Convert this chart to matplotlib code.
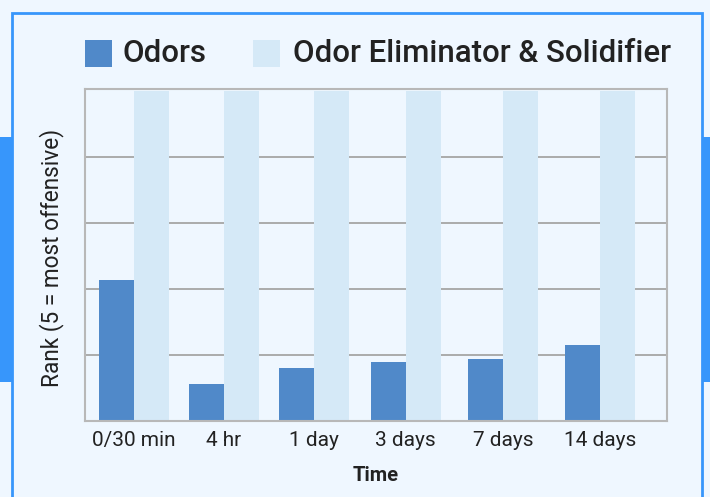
import numpy as np
import matplotlib.pyplot as plt
from matplotlib.patches import Rectangle

# data
categories = ['0/30 min', '4 hr', '1 day', '3 days', '7 days', '14 days']
odors = [2.13, 0.56, 0.80, 0.89, 0.935, 1.15]
eliminator = [5, 5, 5, 5, 5, 5]
series_names = ['Odors', 'Odor Eliminator & Solidifier']

# group centres (slightly uneven in the original)
x_pos = np.array([0, 1, 2, 3.02, 4.1, 5.18])
width = 0.39

bg = '#eff7ff'
dark = '#5089c9'
light = '#d5e9f7'
border = '#3796fb'
text_col = '#222222'

plt.rcParams['font.family'] = ['Roboto', 'DejaVu Sans']

fig = plt.figure(figsize=(7.1, 4.97), dpi=100, facecolor=bg)
W, H = 710, 497


def px(x, y, w, h):
    # pixel box (top-left origin) -> figure fraction
    return (x / W, 1 - (y + h) / H, w / W, h / H)


# decorative frame
fig.patches.append(Rectangle(px(12, 13, 690, 520)[:2], 690 / W, 520 / H,
                             transform=fig.transFigure, fill=False,
                             edgecolor=border, linewidth=2, zorder=0))
for bx, bw in [(0, 13), (702, 10)]:
    r = px(bx, 137, bw, 245)
    fig.patches.append(Rectangle(r[:2], r[2], r[3], transform=fig.transFigure,
                                 facecolor=border, edgecolor='none', zorder=0))

ax = fig.add_axes(px(85, 89, 582, 332))
ax.set_facecolor(bg)
ax.bar(x_pos - width / 2, odors, width, color=dark, zorder=2)
ax.bar(x_pos + width / 2, eliminator, width, color=light, zorder=2)

ax.set_xlim(-0.544, 5.922)
ax.set_ylim(0, 5.03)
ax.set_yticks([1, 2, 3, 4])
ax.set_yticklabels([])
ax.tick_params(axis='y', length=0)
ax.tick_params(axis='x', length=0, pad=7, labelsize=15, labelcolor=text_col)
ax.set_xticks(x_pos)
ax.set_xticklabels(categories)
ax.grid(axis='y', color='#ababab', linewidth=1.4, zorder=1)
ax.set_axisbelow(True)
for s in ax.spines.values():
    s.set_color('#b8b8b8')
    s.set_linewidth(1.5)

ax.set_xlabel('Time', fontsize=14.5, fontweight='bold', color=text_col, labelpad=12)
fig.text(52 / W, 1 - 258 / H, 'Rank (5 = most offensive)', rotation=90,
         ha='center', va='center', fontsize=16.3, color=text_col)

# legend on top
for (lx, tx), name, col in zip([(85, 122), (253, 293)], series_names, [dark, light]):
    r = px(lx, 40, 27, 27)
    fig.patches.append(Rectangle(r[:2], r[2], r[3], transform=fig.transFigure,
                                 facecolor=col, edgecolor='none'))
    fig.text(tx / W, 1 - 54 / H, name, ha='left', va='center', fontsize=22.5,
             fontweight='medium', color=text_col)

plt.savefig('out.png', dpi=100, facecolor=bg)
